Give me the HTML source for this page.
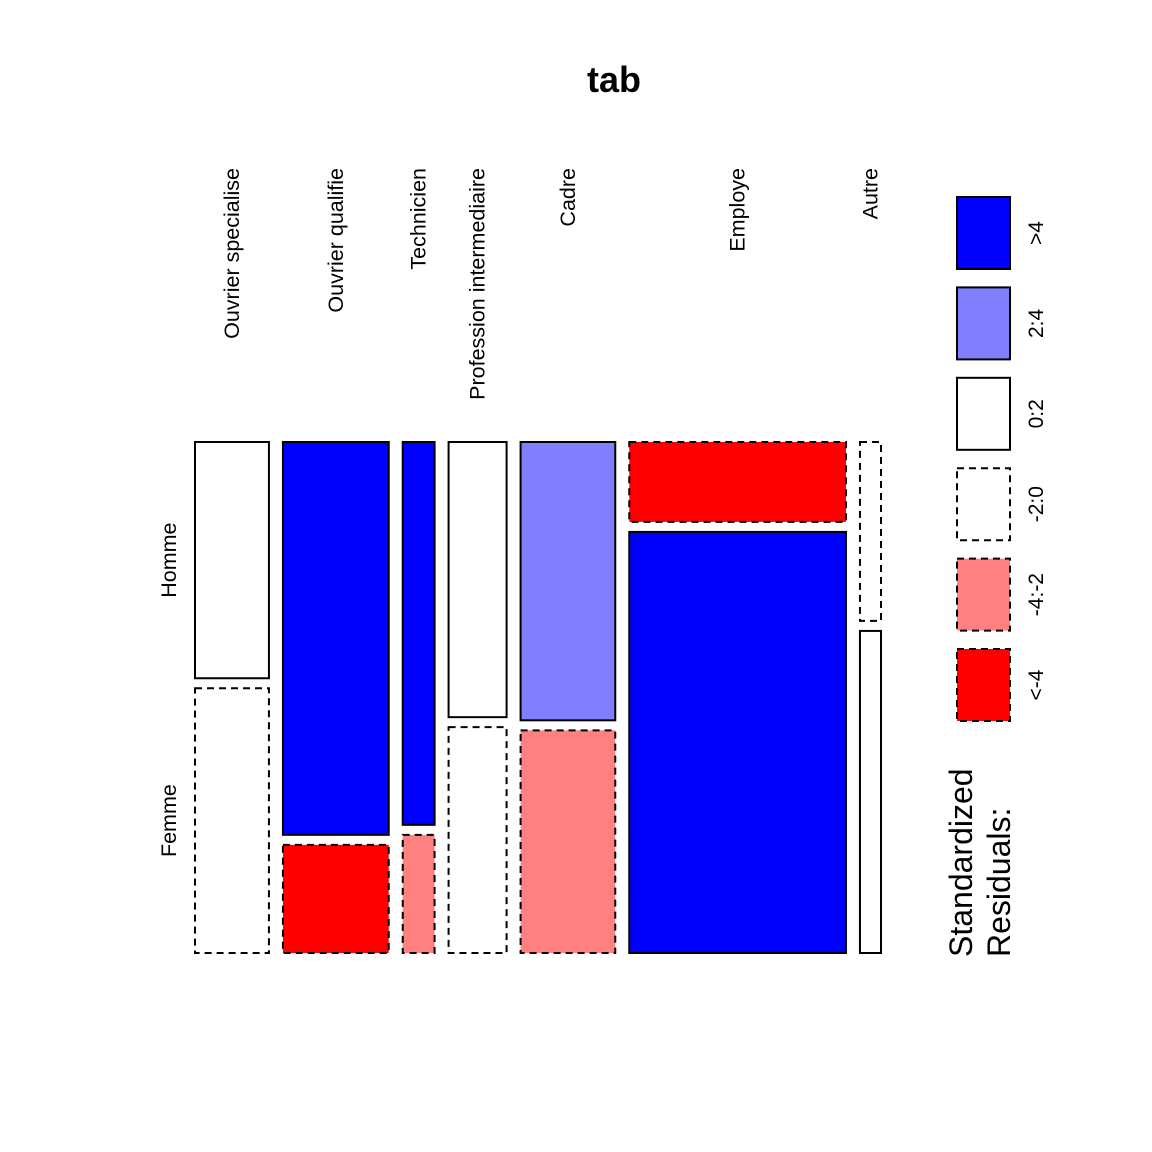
<!DOCTYPE html>
<html><head><meta charset="utf-8"><style>body{margin:0;background:#fff}svg{display:block}text{font-family:"Liberation Sans",Arial,sans-serif}</style></head>
<body>
<svg id="chart" width="1152" height="1152" viewBox="0 0 1152 1152">
<rect width="1152" height="1152" fill="#fff"/>
<text x="614" y="92" font-size="36" font-weight="bold" text-anchor="middle">tab</text>
<g id="cells"></g>
<g id="legend"></g>
<text transform="translate(972,957) rotate(-90)" font-size="32">Standardized</text>
<text transform="translate(1010,957) rotate(-90)" font-size="32">Residuals:</text>
</svg>
<script>
const categories=["Ouvrier specialise","Ouvrier qualifie","Technicien","Profession intermediaire","Cadre","Employe","Autre"];
const rows=["Homme","Femme"];
const homme=[116,276,81,106,175,115,25];
const femme=[130,76,25,87,140,606,45];
const residHomme=[1,6,5,1,3,-10,-1];
const residFemme=[-1,-5,-3,-1,-3,10,1];
const legendLabels=[">4","2:4","0:2","-2:0","-4:-2","<-4"];
const legendResid=[5,3,1,-1,-3,-5];

const NS="http://www.w3.org/2000/svg";
const X0=195,X1=881,Y0=442,Y1=953,GAP=14,VGAP=10;
function col(r){return r>4?"#0000ff":r>2?"#8080ff":r>=0?"#ffffff":r>=-2?"#ffffff":r>=-4?"#ff8080":"#ff0000";}
function mk(tag,attrs,parent){const e=document.createElementNS(NS,tag);for(const k in attrs)e.setAttribute(k,attrs[k]);parent.appendChild(e);return e;}
const cells=document.getElementById("cells");
const totals=categories.map((c,i)=>homme[i]+femme[i]);
const grand=totals.reduce((a,b)=>a+b,0);
const availW=(X1-X0)-GAP*(categories.length-1);
const availH=(Y1-Y0)-VGAP;
let x=X0;
categories.forEach((c,i)=>{
  const w=totals[i]/grand*availW;
  const hH=homme[i]/totals[i]*availH;
  const r1=mk("rect",{x:x,y:Y0,width:w,height:hH,fill:col(residHomme[i]),stroke:"#000","stroke-width":2},cells);
  if(residHomme[i]<0)r1.setAttribute("stroke-dasharray","7,5");
  
  
  const r2=mk("rect",{x:x,y:Y0+hH+VGAP,width:w,height:availH-hH,fill:col(residFemme[i]),stroke:"#000","stroke-width":2},cells);
  if(residFemme[i]<0)r2.setAttribute("stroke-dasharray","7,5");
  
  
  const t=mk("text",{transform:`translate(${x+w/2+7},168) rotate(-90)`,"font-size":21.5,"text-anchor":"end"},cells);
  t.textContent=c;
  
  
  if(i===0){
    const yc=[Y0+hH/2,Y0+hH+VGAP+(availH-hH)/2];
    rows.forEach((rn,j)=>{
      const rt=mk("text",{transform:`translate(176,${yc[j]}) rotate(-90)`,"font-size":21.5,"text-anchor":"middle"},cells);
      rt.textContent=rn;
      
      
    });
  }
  x+=w+GAP;
});
const leg=document.getElementById("legend");
legendLabels.forEach((l,i)=>{
  const y=197+i*90.4;
  const r=mk("rect",{x:957,y:y,width:53,height:72,fill:col(legendResid[i]),stroke:"#000","stroke-width":2},leg);
  if(legendResid[i]<0)r.setAttribute("stroke-dasharray","7,5");
  
  
  const t=mk("text",{transform:`translate(1043,${y+36}) rotate(-90)`,"font-size":21,"text-anchor":"middle"},leg);
  t.textContent=l;
  
  
});
</script>
</body></html>
